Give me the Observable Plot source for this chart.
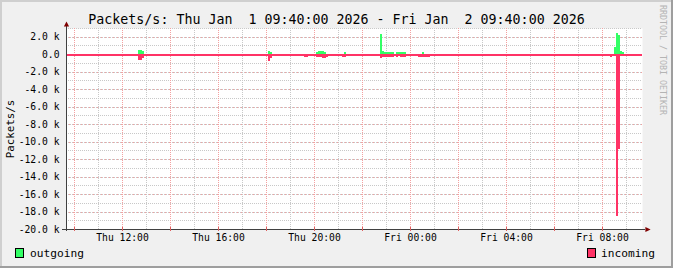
<!DOCTYPE html>
<html><head><meta charset="utf-8">
<script src="https://cdn.jsdelivr.net/npm/d3@7"></script>
<script src="https://cdn.jsdelivr.net/npm/@observablehq/plot@0.6"></script>
<style>
html,body{margin:0;padding:0;background:#f0f0f0;}
#wrap{position:relative;width:673px;height:268px;background:#f0f0f0;overflow:hidden;font-family:"DejaVu Sans Mono",monospace;color:#000;}
#wrap svg{position:absolute;left:0;top:0;}
.abs{position:absolute;white-space:pre;line-height:1;}
</style></head><body><div id="wrap"></div>
<script>
// ---- data ----
const startTime = "2026-01-01T09:40:00Z";
const endTime = "2026-01-02T09:40:00Z";
const stepMinutes = 5;
const sampleTimes = [
  "2026-01-01T11:15Z","2026-01-01T12:40Z","2026-01-01T12:45Z","2026-01-01T12:50Z",
  "2026-01-01T16:55Z","2026-01-01T18:05Z","2026-01-01T18:10Z","2026-01-01T19:25Z",
  "2026-01-01T19:35Z","2026-01-01T19:40Z","2026-01-01T20:05Z","2026-01-01T20:10Z",
  "2026-01-01T20:15Z","2026-01-01T20:20Z","2026-01-01T20:25Z","2026-01-01T20:30Z",
  "2026-01-01T21:10Z","2026-01-01T21:15Z","2026-01-01T21:55Z","2026-01-01T22:45Z",
  "2026-01-01T22:50Z","2026-01-01T22:55Z","2026-01-01T23:00Z","2026-01-01T23:05Z",
  "2026-01-01T23:10Z","2026-01-01T23:15Z","2026-01-01T23:25Z","2026-01-01T23:30Z",
  "2026-01-01T23:35Z","2026-01-01T23:40Z","2026-01-01T23:45Z","2026-01-02T00:20Z",
  "2026-01-02T00:25Z","2026-01-02T00:30Z","2026-01-02T00:35Z","2026-01-02T00:40Z",
  "2026-01-02T00:45Z","2026-01-02T08:20Z","2026-01-02T08:30Z","2026-01-02T08:35Z",
  "2026-01-02T08:40Z","2026-01-02T08:45Z","2026-01-02T08:50Z"
];
const outgoing = [
  0,520,520,330,
  0,380,250,0,
  0,0,200,320,
  320,320,200,0,
  0,220,0,2300,
  380,260,260,260,
  260,260,240,240,
  240,240,240,0,
  0,280,0,0,
  0,0,770,2400,
  2150,380,280
];
const incoming = [
  250,620,620,420,
  260,720,380,260,
  320,320,320,320,
  320,400,480,320,
  320,320,260,480,
  320,320,320,320,
  320,320,320,0,
  320,320,320,320,
  320,320,320,320,
  320,320,0,18500,
  10800,0,0
];
const yTickValues = [2000,0,-2000,-4000,-6000,-8000,-10000,-12000,-14000,-16000,-18000,-20000];
const xTickTimes = ["2026-01-01T12:00Z","2026-01-01T16:00Z","2026-01-01T20:00Z","2026-01-02T00:00Z","2026-01-02T04:00Z","2026-01-02T08:00Z"];
const titleText = "Packets/s: Thu Jan  1 09:40:00 2026 - Fri Jan  2 09:40:00 2026";
const yLabelText = "Packets/s";
const seriesNames = ["outgoing","incoming"];
const seriesColors = ["#33ff66","#ff3366"];
const watermarkText = "RRDTOOL / TOBI OETIKER";

// ---- build ----
const t0 = new Date(startTime), t1 = new Date(endTime);
const rows = sampleTimes.map((t,i)=>{
  const s = new Date(t);
  return {start:s, end:new Date(+s + stepMinutes*60000), out:outgoing[i], inc:-incoming[i]};
});
const hours = d3.utcHour.range(t0, t1);
const minorX = hours.filter(d=>d.getUTCHours()%2===1);
const majorX = hours.filter(d=>d.getUTCHours()%2===0);
const minorY = d3.range(-19000, 3001, 1000).filter(v=>!yTickValues.includes(v));
const yMajors = yTickValues.filter(v=>v>-20000);

const triRight = {draw(ctx,size){const r=Math.sqrt(size/Math.PI);ctx.moveTo(-r,-r);ctx.lineTo(r,0);ctx.lineTo(-r,r);ctx.closePath();}};
const triUp = {draw(ctx,size){const r=Math.sqrt(size/Math.PI);ctx.moveTo(0,-r);ctx.lineTo(r,r);ctx.lineTo(-r,r);ctx.closePath();}};

const gridGray = "#c8c8c8", gridRed = "#f4a0a0", axisCol = "#404040", arrowCol = "#800000";

const chart = Plot.plot({
  width: 673, height: 268,
  marginLeft: 66, marginRight: 31, marginTop: 28, marginBottom: 39,
  style: {background:"transparent", fontFamily:"DejaVu Sans Mono", fontSize:"9.7px", color:"#000", overflow:"visible"},
  x: {type:"utc", domain:[t0,t1], ticks: xTickTimes.map(d=>new Date(d)), tickFormat: d3.utcFormat("%a %H:%M"), tickSize:0, tickPadding:5, label:null},
  y: {domain:[-20000,3000], ticks: yTickValues, tickFormat: d => d===0 ? "0.0" : (d/1000).toFixed(1)+" k", tickSize:0, tickPadding:7, label:null},
  marks: [
    Plot.frame({fill:"white", stroke:"none"}),
    Plot.ruleY(minorY, {stroke:gridGray, strokeDasharray:"1,1", shapeRendering:"crispEdges"}),
    Plot.ruleX(minorX, {stroke:gridGray, strokeDasharray:"1,1", shapeRendering:"crispEdges"}),
    Plot.ruleY(yMajors, {stroke:gridGray, strokeDasharray:"1,1", shapeRendering:"crispEdges"}),
    Plot.ruleY(yMajors, {stroke:gridRed, strokeDasharray:"1,3", strokeDashoffset:1, shapeRendering:"crispEdges"}),
    Plot.ruleX(majorX, {stroke:gridRed, strokeDasharray:"1,1", shapeRendering:"crispEdges"}),
    Plot.rect(rows, {x1:"start", x2:"end", y1:0, y2:"out", fill:seriesColors[0], shapeRendering:"crispEdges"}),
    Plot.rect(rows, {x1:"start", x2:"end", y1:0, y2:"inc", fill:seriesColors[1], shapeRendering:"crispEdges"}),
    Plot.ruleY([0], {stroke:seriesColors[1], strokeWidth:2, shapeRendering:"crispEdges"}),
    Plot.ruleY([-20000], {x1:t0, x2:t1, insetLeft:-4, insetRight:-3, stroke:axisCol, shapeRendering:"crispEdges"}),
    Plot.ruleX([t0], {y1:3000, y2:-20000, insetTop:-3, insetBottom:-2, stroke:axisCol, shapeRendering:"crispEdges"}),
    Plot.ruleX(majorX, {y1:-20000, y2:-20000, insetTop:-2, insetBottom:-2, stroke:"#e06060", shapeRendering:"crispEdges"}),
    Plot.dot([t1], {x:d=>d, y:-20000, symbol:triRight, r:2.6, fill:arrowCol, stroke:"none", dx:5.5}),
    Plot.dot([t0], {x:d=>d, y:3000, symbol:triUp, r:2.6, fill:arrowCol, stroke:"none", dy:-4.5})
  ]
});

const wrap = document.getElementById("wrap");
wrap.appendChild(chart);

function addText(txt, css){const d=document.createElement("div");d.className="abs";d.textContent=txt;Object.assign(d.style,css);wrap.appendChild(d);return d;}
function addBox(css){const d=document.createElement("div");d.style.position="absolute";d.style.boxSizing="border-box";Object.assign(d.style,css);wrap.appendChild(d);return d;}

addText(titleText, {left:"0px", width:"673px", textAlign:"center", top:"13px", fontSize:"13.3px"});
addText(yLabelText, {left:"11px", top:"129px", fontSize:"10.8px", transform:"translate(-50%,-50%) rotate(-90deg)"});
addText(watermarkText, {left:"662.5px", top:"60px", fontSize:"8.3px", color:"#b4b4b4", transform:"translate(-50%,-50%) rotate(90deg)"});

// legend
addBox({left:"15px", top:"248px", width:"9px", height:"10px", background:seriesColors[0], border:"1px solid #000"});
addText(seriesNames[0], {left:"30px", top:"248px", fontSize:"11.2px"});
addBox({left:"587px", top:"248px", width:"9px", height:"10px", background:seriesColors[1], border:"1px solid #000"});
addText(seriesNames[1], {left:"601px", top:"248px", fontSize:"11.2px"});

// 3D border
addBox({left:"0px", top:"0px", width:"673px", height:"2px", background:"#cfcfcf"});
addBox({left:"0px", top:"0px", width:"2px", height:"268px", background:"#cfcfcf"});
addBox({left:"671px", top:"0px", width:"2px", height:"268px", background:"#9e9e9e"});
addBox({left:"0px", top:"266px", width:"673px", height:"2px", background:"#9e9e9e"});
</script></body></html>
